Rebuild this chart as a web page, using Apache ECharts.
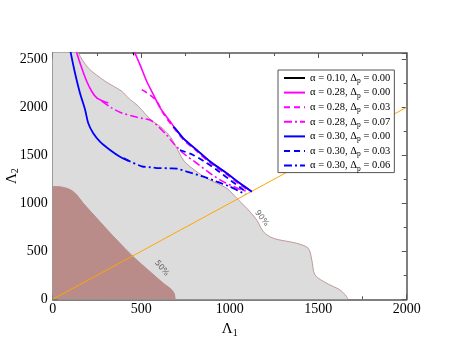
<!DOCTYPE html>
<html>
<head>
<meta charset="utf-8">
<script src="https://cdn.jsdelivr.net/npm/echarts@6/dist/echarts.min.js"></script>
<style>html,body{margin:0;padding:0;background:#fff}#c{width:457px;height:353px}</style>
</head>
<body>
<div id="c"></div>
<script>
// ---- data ----
const xTickLabels = [0, 500, 1000, 1500, 2000];
const yTickLabels = [0, 500, 1000, 1500, 2000, 2500];
const yMax = 2565;

const region90 = [[0,2620],[140,2620],[145,2566],[201,2409],[296,2271],[390,2167],[427,2097],[484,2010],[550,1878],[625,1774],[673,1670],[701,1573],[738,1451],[776,1381],[870,1260],[983,1156],[1040,1052],[1096,948],[1153,826],[1190,704],[1247,635],[1379,583],[1444,531],[1464,409],[1482,253],[1548,167],[1624,97],[1661,27],[1668,0]];
const region50 = [[0,1175],[40,1172],[79,1156],[110,1130],[136,1086],[173,1000],[267,808],[362,618],[455,444],[550,288],[625,167],[663,115],[686,63],[692,0]];
const diagonal = [[0,0],[2000,2000]];

const black010 = [[448,2640],[458,2540]];
const mag028_00_left = [[130,2620],[136,2566],[164,2409],[192,2271],[220,2167],[249,2097],[286,2063],[314,2045]];
const mag028_00_right = [[458,2620],[465,2566],[493,2444],[531,2271],[569,2131],[607,1993],[663,1854],[691,1781],[738,1677],[814,1555],[891,1433],[983,1313],[1058,1208],[1125,1121]];
const mag028_03 = [[503,2183],[550,2128],[588,2063],[623,1941],[663,1836],[690,1770],[740,1660],[815,1540],[890,1420],[983,1300],[1058,1195],[1110,1125]];
const mag028_07 = [[277,2063],[333,1993],[390,1941],[455,1906],[512,1881],[550,1868],[588,1815],[644,1711],[682,1625],[738,1521],[814,1417],[889,1313],[964,1225],[1040,1160],[1100,1122]];
const blue030_00_left = [[98,2620],[102,2566],[126,2357],[154,2149],[183,1975],[201,1833],[229,1729],[267,1642],[324,1555],[380,1485],[427,1444]];
const blue030_00_right = [[681,1798],[691,1781],[738,1677],[814,1555],[891,1433],[983,1313],[1058,1208],[1125,1121]];
const blue030_03 = [[719,1555],[793,1503],[861,1430],[935,1336],[1002,1243],[1070,1149],[1098,1107]];
const blue030_06 = [[400,1470],[427,1444],[503,1385],[550,1375],[588,1367],[664,1364],[702,1360],[758,1330],[852,1277],[927,1225],[1002,1173],[1077,1104],[1088,1094]];

const pctLabels = [{name:'50%', value:[616,323], rot:-50}, {name:'90%', value:[1181,844], rot:-52}];

const names = [
  'α = 0.10, Δp = 0.00',
  'α = 0.28, Δp = 0.00',
  'α = 0.28, Δp = 0.03',
  'α = 0.28, Δp = 0.07',
  'α = 0.30, Δp = 0.00',
  'α = 0.30, Δp = 0.03',
  'α = 0.30, Δp = 0.06'
];

// ---- chart ----
const serif = 'Liberation Serif';
const frame = '#555';
const dashT = [6, 4];
const dashDotT = [8, 3, 2, 3];

function curve(name, data, color, type, w) {
  return {
    name: name, type: 'line', data: data, smooth: 0.3, symbol: 'none', showSymbol: false,
    lineStyle: {color: color, width: w || 1.6, type: type || 'solid'},
    itemStyle: {color: color}, z: 5, clip: true
  };
}

function axisCommon(show) {
  return {
    type: 'value',
    axisLine: {show: true, onZero: false, lineStyle: {color: frame, width: 1.5}},
    axisTick: {show: true, inside: true, length: 5, lineStyle: {color: frame}},
    minorTick: {show: true, splitNumber: 2, length: 3, lineStyle: {color: frame}},
    splitLine: {show: false},
    axisLabel: {show: show, color: '#000', fontFamily: serif, fontSize: 14, showMaxLabel: false,
      formatter: function (v) { return String(v); }}
  };
}

const nameRich = {
  a: {fontFamily: serif, fontSize: 15, color: '#000', lineHeight: 16},
  s: {fontFamily: serif, fontSize: 10, color: '#000', lineHeight: 8, padding: [8, 0, 0, 0]}
};

const xB = Object.assign(axisCommon(true), {
  min: xTickLabels[0], max: xTickLabels[xTickLabels.length - 1], interval: 500, position: 'bottom',
  name: '{a|Λ}{s|1}', nameLocation: 'middle', nameGap: 22, nameMoveOverlap: false, nameTextStyle: {rich: nameRich}
});
xB.axisLabel.margin = 3;
xB.axisLabel.showMaxLabel = true;
const xT = Object.assign(axisCommon(false), {min: xTickLabels[0], max: xTickLabels[xTickLabels.length - 1], interval: 500, position: 'top'});
const yL = Object.assign(axisCommon(true), {
  min: yTickLabels[0], max: yMax, interval: 500, position: 'left',
  name: '{a|Λ}{s|2}', nameLocation: 'middle', nameGap: 33, nameMoveOverlap: false, nameTextStyle: {rich: nameRich}
});
yL.axisLabel.margin = 5;
const yR = Object.assign(axisCommon(false), {min: yTickLabels[0], max: yMax, interval: 500, position: 'right'});

const chart = echarts.init(document.getElementById('c'), null, {renderer: 'canvas'});
chart.setOption({
  animation: false,
  backgroundColor: '#fff',
  grid: {left: 52.7, right: 50.3, top: 53, bottom: 53.7, containLabel: false, outerBoundsMode: 'none'},
  xAxis: [xB, xT],
  yAxis: [yL, yR],
  legend: {
    data: names,
    orient: 'vertical', left: 278, top: 70,
    padding: [1, 4, 0, 5],
    itemWidth: 21, itemHeight: 11, itemGap: 0.6,
    itemStyle: {opacity: 0},
    lineStyle: {type: 'inherit'},
    backgroundColor: '#fff', borderColor: frame, borderWidth: 1, borderRadius: 0,
    formatter: function (n) {
      const p = n.split('Δp');
      return '{n|' + p[0] + 'Δ}{s|p}{n|' + p[1] + '}';
    },
    textStyle: {
      fontFamily: serif, fontSize: 10.5, color: '#000',
      rich: {
        n: {fontFamily: serif, fontSize: 10.5, color: '#000', lineHeight: 12},
        s: {fontFamily: serif, fontSize: 7.5, color: '#000', lineHeight: 6, padding: [6, 0, 0, 0]}
      }
    }
  },
  series: [
    {type: 'line', data: region90, smooth: 0.3, symbol: 'none', z: 1,
     lineStyle: {color: '#bf9a9a', width: 1}, areaStyle: {color: '#dcdcdc', opacity: 1}},
    {type: 'line', data: region50, smooth: 0.3, symbol: 'none', z: 2,
     lineStyle: {color: '#b98b89', width: 1}, areaStyle: {color: '#b98b89', opacity: 1}},
    {type: 'line', data: diagonal, symbol: 'none', z: 3, lineStyle: {color: '#ffa500', width: 1}},
    {type: 'scatter', symbolSize: 0, z: 4,
     data: pctLabels.map(d => ({value: d.value, label: {show: true, formatter: d.name, rotate: d.rot,
       position: 'inside', fontFamily: 'DejaVu Sans', fontSize: 8, color: '#444'}}))},
    curve(names[0], black010, '#000000', 'solid', 1.2),
    curve(names[1], mag028_00_left, '#ff00ff', 'solid'),
    curve(names[1], mag028_00_right, '#ff00ff', 'solid'),
    curve(names[2], mag028_03, '#ff00ff', dashT),
    curve(names[3], mag028_07, '#ff00ff', dashDotT),
    curve(names[4], blue030_00_left, '#0000ff', 'solid', 1.8),
    curve(names[4], blue030_00_right, '#0000ff', 'solid', 1.8),
    curve(names[5], blue030_03, '#0000ff', dashT, 1.8),
    curve(names[6], blue030_06, '#0000ff', dashDotT, 1.8)
  ]
});
</script>
</body>
</html>
